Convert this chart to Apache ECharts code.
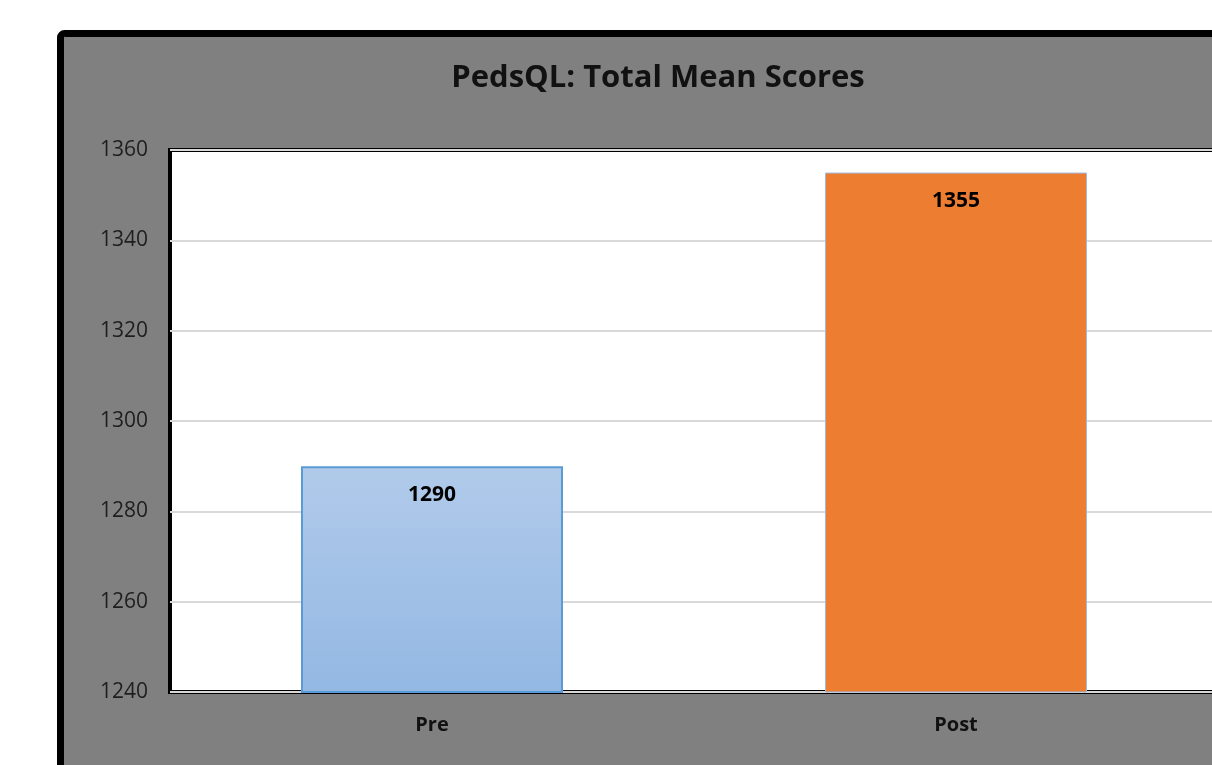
<!DOCTYPE html>
<html>
<head>
<meta charset="utf-8">
<script src="https://cdn.jsdelivr.net/npm/echarts@6/dist/echarts.min.js"></script>
<style>
html,body{margin:0;padding:0;background:#fff;overflow:hidden;}
#c{width:1240px;height:765px;}
</style>
</head>
<body>
<div id="c"></div>
<script>
const categories = ['Pre', 'Post'];
const scores = [1290, 1355];
const yTicks = [1240, 1260, 1280, 1300, 1320, 1340, 1360];

const chart = echarts.init(document.getElementById('c'), null, {renderer: 'canvas'});
const barStyles = [
  {
    color: new echarts.graphic.LinearGradient(0, 0, 0, 1, [
      {offset: 0, color: '#b1caea'},
      {offset: 1, color: '#93b8e3'}
    ]),
    borderColor: '#5b9bd5',
    borderWidth: 2
  },
  {
    color: '#ed7d31',
    borderColor: '#9dbbe0',
    borderWidth: 1
  }
];

chart.setOption({
  animation: false,
  backgroundColor: '#ffffff',
  graphic: [{
    type: 'rect',
    z: -10,
    shape: {x: 60.5, y: 33.5, width: 1220, height: 800, r: 4},
    style: {fill: '#808080', stroke: '#000000', lineWidth: 7}
  }],
  title: {
    text: 'PedsQL: Total Mean Scores',
    left: 653,
    top: 58,
    textAlign: 'center',
    textStyle: {fontFamily: 'Open Sans', fontWeight: 'bold', fontSize: 31, color: '#111111'}
  },
  grid: {
    left: 170, top: 150, right: 22, bottom: 73,
    outerBoundsMode: 'none',
    show: true, backgroundColor: '#ffffff', borderColor: '#000000', borderWidth: 4,
    containLabel: false
  },
  xAxis: {
    type: 'category',
    data: categories,
    axisLine: {show: false},
    axisTick: {show: false},
    axisLabel: {margin: 23, fontFamily: 'Open Sans', fontWeight: 'bold', fontSize: 20, color: '#111111'}
  },
  yAxis: {
    type: 'value',
    min: yTicks[0],
    max: yTicks[yTicks.length - 1],
    interval: 20,
    axisLine: {show: false},
    axisTick: {show: false},
    splitLine: {lineStyle: {color: '#d9d9d9', width: 2}},
    axisLabel: {margin: 22, fontFamily: 'Open Sans', fontSize: 21, color: '#1e1e1e', formatter: v => String(v)}
  },
  series: [{
    type: 'bar',
    barWidth: '50%',
    data: scores.map((v, i) => ({value: v, itemStyle: barStyles[i]})),
    label: {
      show: true,
      position: 'insideTop',
      distance: 18,
      fontFamily: 'Open Sans',
      fontWeight: 'bold',
      fontSize: 21,
      color: '#000000'
    }
  }]
});
</script>
</body>
</html>
